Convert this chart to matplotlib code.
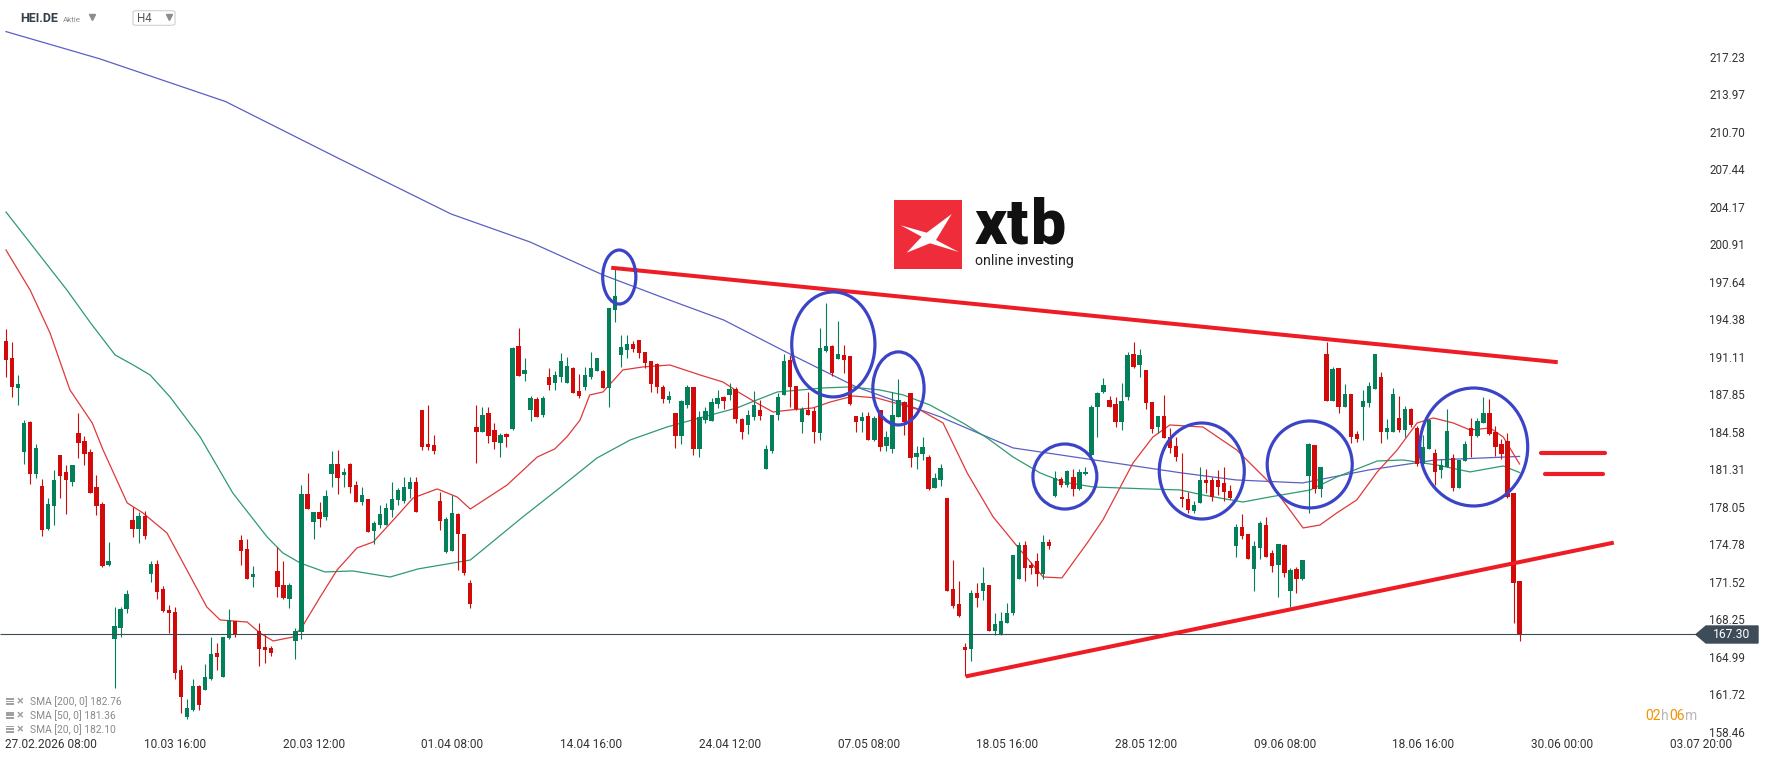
import matplotlib
matplotlib.use("Agg")
import matplotlib.pyplot as plt
from matplotlib.patches import Ellipse, Polygon, Rectangle, FancyBboxPatch
from matplotlib.transforms import blended_transform_factory, ScaledTranslation

plt.rcParams['font.family'] = ['Roboto', 'DejaVu Sans']

# ---- candles, one H4 bar per slot (slot 0 = 27.02.2026 08:00) ----
opens = [192.81, 191.33, 188.75, 183.14, 185.76, 181.26, 180.18, 176.41, 178.44, 182.88,
         181.40, 180.53, 184.77, 184.10, 183.14, 180.10, 178.62, 173.31, 166.89, 167.85,
         169.45, 177.22, 176.47, 177.57, 172.49, 173.36, 171.22, 169.39, 169.21, 164.16,
         160.10, 160.68, 162.77, 162.42, 163.35, 165.61, 163.58, 166.92, 168.40, 175.48,
         174.67, 172.29, 167.59, 166.19, 166.08, 172.78, 171.59, 170.38, 166.72, 167.50,
         179.49, 177.05, 177.95, 177.46, 181.23, 182.13, 181.17, 182.13, 180.24, 178.79,
         179.02, 176.30, 176.79, 176.76, 178.09, 178.96, 178.91, 179.90, 180.51, 186.80,
         183.84, 183.76, 178.91, 174.47, 174.56, 177.75, 176.01, 171.70, 185.29, 184.92,
         186.51, 185.03, 183.96, 184.71, 185.15, 192.35, 189.97, 186.80, 187.76, 186.40,
         189.68, 189.13, 189.71, 189.18, 190.43, 188.46, 188.81, 189.68, 190.23, 190.23,
         188.75, 195.51, 191.59, 192.03, 192.55, 192.90, 191.85, 191.07, 190.81, 188.81,
         187.67, 186.57, 184.57, 187.27, 188.84, 183.41, 185.93, 185.88, 187.36, 187.94,
         188.11, 188.63, 186.05, 185.53, 186.22, 186.80, 181.70, 183.21, 186.40, 188.14,
         191.16, 188.89, 185.79, 186.80, 186.74, 184.83, 191.97, 192.37, 191.21, 191.59,
         191.50, 186.28, 185.84, 186.28, 184.19, 186.80, 183.67, 183.43, 186.22, 187.47,
         188.25, 182.74, 182.94, 182.74, 179.98, 180.71, 179.11, 171.22, 169.94, 166.20,
         166.02, 170.90, 171.07, 171.59, 167.59, 167.30, 168.29, 169.16, 172.12, 175.05,
         173.34, 173.68, 172.52, 175.31, 179.34, 180.82, 180.27, 180.99, 179.92, 181.23,
         182.91, 187.03, 188.40, 187.67, 187.33, 185.79, 187.96, 191.68, 190.69, 190.28,
         187.47, 185.35, 186.28, 184.48, 183.67, 179.20, 179.02, 178.04, 178.68, 180.71,
         180.71, 180.71, 180.47, 179.72, 174.96, 176.59, 176.01, 172.93, 174.82, 176.79,
         174.32, 173.31, 175.05, 171.07, 172.93, 172.06, 181.09, 183.75, 179.95, 191.68,
         187.61, 190.46, 187.03, 188.19, 184.71, 187.03, 187.44, 188.66, 189.65, 184.92,
         184.92, 186.11, 185.06, 186.89, 185.26, 182.10, 183.43, 183.03, 181.55, 181.87,
         182.59, 180.01, 182.39, 185.23, 184.54, 185.70, 186.51, 184.89, 183.84, 184.10,
         179.55, 171.88]
highs = [193.85, 192.75, 189.85, 185.93, 185.84, 183.84, 180.76, 179.11, 181.58, 182.88,
         182.01, 182.04, 186.51, 184.54, 183.43, 181.11, 178.79, 175.31, 169.68, 169.62,
         171.13, 178.38, 177.92, 178.01, 173.65, 173.74, 171.48, 169.79, 169.62, 164.60,
         161.61, 163.41, 162.89, 164.69, 167.01, 166.49, 167.07, 169.45, 168.46, 175.95,
         175.54, 173.22, 168.23, 167.18, 166.25, 174.84, 173.68, 171.71, 167.82, 180.27,
         181.32, 177.95, 178.79, 179.84, 183.20, 183.32, 181.75, 182.22, 180.65, 180.07,
         179.02, 177.17, 178.53, 178.67, 180.53, 179.98, 181.00, 181.00, 180.94, 186.80,
         187.24, 184.60, 179.69, 177.52, 179.37, 177.81, 176.01, 172.00, 187.24, 187.09,
         187.09, 185.64, 184.77, 184.77, 192.26, 193.94, 191.30, 188.02, 187.97, 188.02,
         190.43, 190.23, 191.74, 191.39, 190.58, 189.94, 190.52, 191.85, 191.33, 190.29,
         195.66, 199.23, 193.30, 193.30, 192.84, 192.90, 191.85, 191.07, 190.87, 189.01,
         188.43, 186.57, 187.67, 188.95, 188.84, 186.69, 187.04, 187.82, 188.55, 188.02,
         189.13, 188.78, 186.11, 186.80, 188.43, 187.67, 183.76, 186.37, 188.26, 191.68,
         191.56, 188.89, 187.09, 188.37, 187.09, 193.94, 196.09, 192.46, 194.55, 192.46,
         191.50, 186.28, 186.63, 186.66, 186.28, 186.80, 184.94, 188.37, 189.47, 187.56,
         188.25, 183.67, 184.48, 182.85, 181.29, 182.10, 179.11, 173.74, 171.88, 166.49,
         171.13, 171.71, 173.16, 171.59, 169.16, 169.21, 169.97, 174.18, 175.34, 175.43,
         173.60, 174.32, 175.89, 175.54, 181.49, 180.94, 181.58, 181.64, 181.64, 181.81,
         187.24, 188.37, 189.56, 188.02, 187.96, 189.13, 191.85, 192.69, 192.14, 190.28,
         187.53, 186.28, 188.08, 185.21, 184.48, 183.03, 179.69, 178.91, 181.81, 181.64,
         181.00, 181.58, 181.81, 180.27, 176.88, 177.75, 176.01, 175.43, 177.11, 177.46,
         174.61, 175.13, 175.13, 173.02, 173.16, 173.74, 183.90, 183.75, 181.87, 192.69,
         190.57, 190.46, 189.06, 188.19, 185.00, 188.54, 189.27, 191.68, 190.11, 186.05,
         188.72, 188.02, 187.15, 186.98, 185.41, 184.62, 185.99, 183.38, 182.51, 186.86,
         182.97, 182.45, 184.13, 186.13, 186.08, 187.91, 187.73, 185.41, 184.25, 184.77,
         179.60, 171.94]
lows = [189.65, 187.96, 187.24, 182.10, 180.36, 180.85, 175.83, 176.35, 176.79, 179.14,
        177.75, 180.18, 182.62, 182.01, 179.60, 177.63, 173.16, 173.22, 162.62, 167.07,
        169.16, 175.77, 175.25, 175.60, 171.83, 170.32, 169.24, 167.36, 163.41, 160.45,
        159.87, 160.62, 160.68, 162.42, 163.29, 164.16, 163.58, 166.83, 167.01, 173.33,
        172.12, 171.42, 164.51, 164.74, 165.38, 170.55, 170.37, 169.56, 165.15, 166.89,
        178.21, 175.60, 176.64, 177.22, 180.13, 179.49, 180.13, 179.60, 178.79, 178.50,
        176.21, 175.16, 176.50, 176.76, 177.51, 178.53, 178.68, 179.11, 177.95, 183.32,
        183.32, 182.97, 176.36, 174.32, 174.56, 172.87, 172.40, 169.60, 182.16, 184.92,
        183.96, 183.38, 182.68, 183.55, 185.06, 189.76, 189.36, 185.88, 186.22, 186.22,
        188.55, 188.55, 189.27, 189.18, 188.31, 187.88, 188.52, 189.53, 190.23, 188.69,
        187.10, 194.50, 190.58, 191.36, 191.85, 191.30, 190.43, 188.37, 188.26, 187.44,
        187.44, 183.50, 183.84, 186.95, 182.92, 182.74, 185.64, 185.88, 186.95, 186.86,
        187.67, 185.70, 184.31, 184.71, 185.96, 185.93, 181.70, 183.09, 185.93, 188.14,
        187.03, 186.80, 184.83, 186.40, 183.96, 184.19, 191.88, 189.76, 191.21, 190.05,
        187.24, 184.92, 184.89, 184.19, 184.13, 183.26, 183.26, 183.03, 186.22, 184.63,
        181.87, 181.69, 182.45, 179.84, 179.98, 180.21, 171.07, 169.53, 168.81, 163.64,
        164.98, 169.62, 170.26, 167.59, 167.18, 167.18, 168.29, 168.95, 172.12, 171.88,
        172.52, 171.48, 172.06, 174.67, 179.20, 180.13, 180.13, 179.34, 179.84, 181.11,
        182.80, 184.42, 188.31, 187.03, 185.29, 185.06, 187.68, 190.43, 189.71, 186.89,
        184.83, 184.83, 184.33, 183.03, 182.39, 178.38, 177.86, 177.86, 178.68, 179.55,
        178.91, 179.40, 178.91, 179.02, 173.97, 175.54, 173.86, 171.07, 173.80, 173.97,
        172.73, 170.55, 172.23, 169.62, 170.84, 172.00, 177.86, 179.55, 179.26, 187.61,
        187.61, 186.51, 187.03, 183.96, 184.04, 184.19, 187.09, 188.63, 183.96, 184.31,
        184.92, 184.92, 184.48, 185.35, 181.93, 182.01, 183.38, 180.27, 180.85, 181.81,
        179.78, 180.01, 182.39, 182.68, 184.42, 185.64, 184.62, 182.80, 182.57, 179.11,
        168.29, 166.72]
closes = [191.16, 188.83, 189.04, 185.64, 181.26, 183.49, 176.35, 178.62, 180.71, 181.05,
          180.71, 182.04, 183.93, 182.97, 179.60, 178.44, 173.22, 173.63, 167.99, 169.45,
          170.78, 176.47, 177.57, 175.83, 173.36, 170.98, 169.33, 169.16, 163.93, 161.78,
          160.86, 162.77, 161.12, 163.52, 165.56, 165.32, 167.01, 168.52, 167.18, 174.55,
          172.12, 172.52, 166.02, 165.90, 165.67, 171.42, 170.43, 171.59, 167.59, 179.49,
          178.21, 177.95, 177.34, 179.31, 182.13, 180.91, 181.40, 180.13, 178.79, 179.40,
          176.21, 176.96, 177.75, 178.27, 179.08, 179.84, 180.07, 180.51, 177.95, 183.61,
          183.61, 183.26, 177.17, 177.34, 177.81, 175.98, 172.60, 169.90, 184.92, 186.40,
          184.57, 184.02, 184.63, 184.42, 192.20, 189.76, 190.29, 187.82, 186.22, 187.85,
          189.01, 189.82, 191.04, 190.61, 188.31, 188.05, 189.82, 190.43, 191.33, 188.75,
          195.66, 196.73, 192.29, 192.55, 192.14, 191.74, 190.93, 189.10, 188.84, 187.73,
          188.02, 184.57, 187.62, 188.78, 183.41, 186.22, 186.72, 187.50, 187.88, 187.62,
          188.63, 186.02, 184.92, 186.40, 187.27, 186.28, 183.44, 186.37, 187.94, 191.04,
          188.83, 186.86, 186.86, 186.40, 184.92, 192.17, 192.37, 189.99, 191.68, 191.16,
          187.33, 185.76, 186.19, 184.19, 186.13, 183.61, 184.48, 186.34, 187.67, 185.76,
          182.65, 183.09, 183.55, 179.89, 180.91, 181.75, 171.07, 169.77, 168.87, 165.91,
          170.90, 170.40, 171.71, 167.59, 168.17, 168.46, 169.16, 174.18, 175.05, 173.07,
          173.07, 172.52, 175.31, 174.96, 180.85, 180.30, 181.49, 179.95, 181.43, 181.43,
          187.03, 188.25, 189.01, 187.03, 185.79, 187.56, 191.59, 190.57, 191.59, 187.38,
          185.18, 186.28, 184.33, 183.46, 182.68, 179.02, 178.09, 178.53, 180.71, 180.47,
          179.20, 180.13, 179.69, 179.11, 176.59, 175.83, 173.86, 174.96, 176.93, 174.03,
          173.25, 175.13, 172.64, 172.87, 172.12, 173.74, 183.84, 179.95, 181.87, 187.61,
          190.40, 187.03, 188.19, 184.48, 184.31, 187.58, 188.89, 191.68, 184.92, 185.23,
          188.19, 185.06, 186.89, 185.47, 182.10, 183.58, 185.93, 181.43, 182.01, 184.94,
          180.01, 182.45, 183.84, 184.57, 185.82, 186.51, 184.68, 183.61, 182.97, 179.20,
          171.71, 167.30]
slots = list(range(len(opens)))

# ---- moving averages (slot, price) ----
sma200_x = [0, 15.6, 36.4, 55, 73.8, 86.9, 99, 110, 119, 130, 141, 155, 167, 195, 204, 215, 226, 237, 251]
sma200_y = [219.75, 217.37, 213.66, 208.75, 203.87, 201.43, 198.56, 196.38, 194.64, 191.68, 188.81,
            186.19, 183.50, 181.32, 180.71, 180.45, 181.58, 182.45, 182.76]
sma50_x = [0, 10.1, 13.9, 18.1, 21.1, 23.9, 27.2, 32.2, 37.6, 43.3, 45.9, 48.8, 52.9, 57.5, 63.7,
           68.3, 77, 85.7, 91.4, 98, 103.5, 109.6, 115.6, 121.2, 124.5, 127.9, 135.5, 140, 144.9,
           148.8, 153.2, 158.7, 162.7, 167, 171.5, 175.3, 180.3, 189.2, 194.7, 198.5, 205.1, 209.6,
           216.3, 220.7, 227.4, 231.7, 237.3, 242.8, 248.3, 251]
sma50_y = [204.04, 197.25, 194.47, 191.59, 190.72, 189.85, 187.94, 184.45, 179.58, 175.75, 174.36,
           173.48, 172.70, 172.79, 172.26, 172.96, 173.74, 177.49, 179.84, 182.62, 184.19, 185.32,
           186.19, 186.98, 187.67, 188.37, 188.72, 188.81, 188.55, 188.11, 187.24, 185.67, 184.37,
           182.71, 181.32, 180.53, 180.10, 179.93, 179.84, 179.40, 178.79, 179.23, 179.84, 180.97,
           182.36, 182.45, 182.01, 181.41, 181.93, 181.36]
sma20_x = [0, 4, 7.3, 10.6, 14.3, 16.1, 20.1, 22.7, 26.7, 30, 33.3, 35.5, 40, 42.1, 44.3, 47.6,
           49.1, 52.1, 54.9, 58.2, 60.9, 65.3, 67.5, 71.5, 74.8, 77, 83.1, 88.1, 91, 93, 95.2, 96.8,
           99, 102.3, 105.6, 110.1, 115.1, 118.9, 121.7, 124.5, 127.2, 130, 133.8, 136.7, 140.5,
           144.4, 151.6, 155.4, 159.4, 163.7, 168.2, 172, 175.1, 179.3, 181.9, 186.9, 190.2, 193,
           198.5, 204.1, 209.6, 215.1, 217.9, 220.7, 224, 227.4, 230.7, 234, 236.7, 240, 242.8,
           246.1, 248.3, 251]
sma20_y = [200.73, 197.25, 193.51, 188.55, 185.67, 183.32, 178.71, 177.84, 176.09, 172.87, 169.65,
           168.52, 168.34, 167.39, 166.69, 167.04, 167.91, 170.52, 172.87, 174.79, 175.31, 177.84,
           179.14, 179.93, 179.23, 178.18, 180.27, 182.71, 183.41, 184.45, 185.93, 188.11, 188.37,
           190.29, 190.55, 190.72, 189.85, 189.24, 188.28, 187.41, 186.63, 186.80, 186.98, 187.50,
           188.02, 187.85, 186.80, 185.67, 181.32, 177.49, 174.61, 172.26, 172.18, 175.22, 177.23,
           182.19, 184.45, 185.50, 185.32, 183.32, 180.45, 176.53, 176.79, 177.84, 178.97, 181.41,
           183.32, 185.67, 186.11, 185.67, 185.06, 185.24, 184.45, 182.10]
legend_rows = ['SMA [200, 0] 182.76', 'SMA [50, 0] 181.36', 'SMA [20, 0] 182.10']

price_ticks = [217.23, 213.97, 210.70, 207.44, 204.17, 200.91, 197.64, 194.38, 191.11, 187.85,
               184.58, 181.31, 178.05, 174.78, 171.52, 168.25, 164.99, 161.72, 158.46]
date_slots = [0, 23, 46, 69, 92, 115, 138, 161, 184, 207, 230, 253, 276]
date_labels = ['27.02.2026 08:00', '10.03 16:00', '20.03 12:00', '01.04 08:00', '14.04 16:00',
               '24.04 12:00', '07.05 08:00', '18.05 16:00', '28.05 12:00', '09.06 08:00',
               '18.06 16:00', '30.06 00:00', '03.07 20:00']
last_price = 167.30

# hand-drawn annotations (slot, price)
upper_trend = ([100.7, 257.0], [199.17, 190.98])
lower_trend = ([159.5, 266.3], [163.64, 175.22])
eq_lines = [([254.6, 265.2], 183.03), ([255.2, 264.9], 181.21)]
circles = [(101.7, 198.38, 5.5, 4.70), (137.2, 192.51, 13.8, 9.14), (148.0, 188.68, 8.5, 6.36),
           (175.6, 181.01, 10.6, 5.66), (198.3, 181.49, 14.1, 8.36), (216.2, 182.06, 14.1, 7.57),
           (243.4, 183.58, 17.9, 10.27)]

UP = '#03805a'
DOWN = '#d20a0a'
W, H = 1768, 761


def fx(x):
    return x / W


def fy(y):
    return 1 - y / H


fig = plt.figure(figsize=(17.68, 7.61), dpi=100)
ax = fig.add_axes([0, 0, 1, 1])
ax.set_xlim(-0.995, 292.2)
ax.set_ylim(156.24, 222.50)
ax.axis('off')

# moving averages
ax.plot(sma200_x, sma200_y, color='#5a60c4', lw=0.9, zorder=2)
ax.plot(sma50_x, sma50_y, color='#2f9a70', lw=0.9, zorder=2)
ax.plot(sma20_x, sma20_y, color='#e0383a', lw=0.9, zorder=2)

# candles
cols = [UP if c >= o else DOWN for o, c in zip(opens, closes)]
ax.vlines(slots, lows, highs, colors=cols, lw=0.8, zorder=3)
bottoms = [min(o, c) for o, c in zip(opens, closes)]
heights = [max(abs(c - o), 0.09) for o, c in zip(opens, closes)]
ax.bar(slots, heights, bottom=bottoms, width=0.72, color=cols, lw=0, zorder=3)

# last price line
ax.hlines(last_price, -1, (1697 - 6) / 6.03, color='#3d4b57', lw=0.8, zorder=4)

# trend lines and marks
ax.plot(*upper_trend, color='#ee1c25', lw=2.9, zorder=5)
ax.plot(*lower_trend, color='#ee1c25', lw=2.9, zorder=5)
for xs, yv in eq_lines:
    ax.plot(xs, [yv, yv], color='#ee1c25', lw=3.0, solid_capstyle='round', zorder=5)
for cx, cy, w, h in circles:
    ax.add_patch(Ellipse((cx, cy), w, h, fill=False, ec='#3b44c7', lw=2.3, zorder=6))

# price scale (labels sit a touch above their level, as in the app)
ytr = blended_transform_factory(ax.transAxes, ax.transData) + \
    ScaledTranslation(0, 2.5 / 100, fig.dpi_scale_trans)
for v in price_ticks:
    ax.text(fx(1709), v, f'{v:.2f}', transform=ytr, ha='left', va='center',
            fontsize=8.4, color='#333333', zorder=7)

# date labels
xtr = blended_transform_factory(ax.transData, ax.transAxes)
for s, lab in zip(date_slots, date_labels):
    ax.text(s - 0.1, fy(745), lab, transform=xtr, ha='left', va='center',
            fontsize=8.6, color='#333333')

# price tag
tag = Polygon([(fx(1696), fy(634.5)), (fx(1706), fy(626)), (fx(1758), fy(626)),
               (fx(1758), fy(643)), (fx(1706), fy(643))], closed=True,
              transform=ax.transAxes, color='#3e4c59', zorder=8)
ax.add_patch(tag)
ax.text(fx(1732), fy(634.5), f'{last_price:.2f}', transform=ax.transAxes, ha='center',
        va='center', fontsize=8.7, color='white', zorder=9)

# countdown
for txt, xl, c in [('02', 1645, '#f39200'), ('h', 1660.5, '#b8b8b8'),
                   ('06', 1669.5, '#f39200'), ('m', 1685, '#b8b8b8')]:
    ax.text(fx(xl), fy(719.5), txt, transform=ax.transAxes, ha='left', va='baseline',
            fontsize=10, color=c)

# indicator legend
for i, row in enumerate(legend_rows):
    yy = fy(701.7 + 13.8 * i)
    ax.add_patch(Rectangle((fx(6), yy - 3.5 / H), 8 / W, 7 / H, transform=ax.transAxes,
                           color='#a0a0a0', lw=0))
    for k in range(2):
        ax.add_patch(Rectangle((fx(6), yy - 1.5 / H + k * 2.6 / H), 8 / W, 0.8 / H,
                               transform=ax.transAxes, color='white', lw=0))
    ax.text(fx(16.5), yy, '×', transform=ax.transAxes, ha='left', va='center',
            fontsize=9, fontweight='bold', color='#a0a0a0')
    ax.text(fx(30), yy, row, transform=ax.transAxes, ha='left', va='center',
            fontsize=7.4, color='#8a8a8a')

# header
ax.text(fx(20.5), fy(19), 'HEI.DE', transform=ax.transAxes, ha='left', va='center',
        fontsize=9.0, fontweight='bold', color='#353f4a')
ax.text(fx(62.5), fy(19.5), 'Aktie', transform=ax.transAxes, ha='left', va='center',
        fontsize=5.8, color='#8c8c8c')
ax.plot([fx(91.5)], [fy(17)], marker='v', ms=5, color='#8c8c8c', transform=ax.transAxes)
ax.add_patch(FancyBboxPatch((fx(133), fy(25.3)), 42 / W, 14.6 / H,
                            boxstyle='round,pad=0,rounding_size=0.002',
                            transform=ax.transAxes, fc='white', ec='#d0d0d0', lw=0.8))
ax.text(fx(137.5), fy(18.5), 'H4', transform=ax.transAxes, ha='left', va='center',
        fontsize=8.4, color='#555555')
ax.plot([fx(168.5)], [fy(17)], marker='v', ms=5, color='#8c8c8c', transform=ax.transAxes)

# xtb watermark
ax.add_patch(Rectangle((fx(894), fy(268.5)), 68 / W, 68.5 / H, transform=ax.transAxes,
                       color='#ef2d3a', lw=0, zorder=1))
xmark = [(900.7, 225.3), (926.7, 232.7), (951.7, 214), (936, 240), (958.7, 252),
         (930, 243.3), (906.7, 252.7), (921.7, 236.7)]
ax.add_patch(Polygon([(fx(a), fy(b)) for a, b in xmark], closed=True,
                     transform=ax.transAxes, color='white', lw=0, zorder=1))
for ch, xl in zip('xtb', [974.5, 1006.5, 1031]):
    ax.text(fx(xl), fy(243.5), ch, transform=ax.transAxes, ha='left', va='baseline',
            fontsize=45, fontweight='heavy', color='#111111', zorder=1)
ax.text(fx(975), fy(264.5), 'online investing', transform=ax.transAxes, ha='left',
        va='baseline', fontsize=10.2, color='#222222', zorder=1)

fig.savefig('out.png', dpi=100, facecolor='white')
